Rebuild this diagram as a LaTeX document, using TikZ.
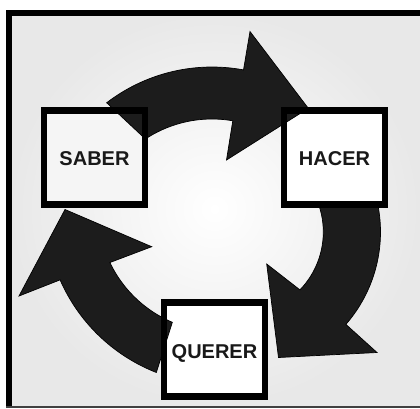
\documentclass[tikz,border=0pt]{standalone}
\usepackage{fontspec}
\setmainfont{Liberation Sans}
\definecolor{arrowfill}{HTML}{1C1C1C}
\definecolor{bgout}{HTML}{E8E8E8}
\begin{document}
\begin{tikzpicture}[x=1pt,y=-1pt,
  boxfill/.style={fill=#1, draw=none, minimum width=101pt, minimum height=94pt,
    outer sep=0pt, inner sep=0pt, text height=17.3pt, text depth=0pt,
    font=\bfseries\fontsize{20}{24}\selectfont, text=black!90},
  boxline/.style={draw=black, line width=6.5pt, line join=miter},
  arrowshape/.style={fill=arrowfill, draw=black, line width=0.7pt, line join=miter, miter limit=10},
  frameband/.style={fill=black}]
\useasboundingbox (0,0) rectangle (420,408);
\fill[white] (0,0) rectangle (420,408);
\shade[inner color=white, outer color=bgout] (9,12) rectangle (420,406);
\fill[frameband] (6,10) rectangle (12,406);
\fill[frameband] (6,10) rectangle (420,15.5);
\fill[black!75] (6,405.5) rectangle (420,408);
% boxes (fill + text)
\node[boxfill=black!4] (saber) at (94.5,157.3) {SABER};
\node[boxfill=white] (hacer) at (334.5,157.3) {HACER};
\node[boxfill=white] (querer) at (214.5,349.5) {QUERER};
% top arrow: SABER -> HACER
\filldraw[arrowshape] plot[domain=-127.5:-79.5, samples=40] ({212+173*cos(\x)},{240+173*sin(\x)})
  -- (250,31.5) -- (308.3,108.3) -- (226.5,160)
  -- plot[domain=-80.1:-123.4, samples=40] ({212+121*cos(\x)},{240+121*sin(\x)}) -- cycle;
% right arrow: HACER -> QUERER
\filldraw[arrowshape] plot[domain=-11.9:41.1, samples=40] ({240+140.5*cos(\x)},{232+140.5*sin(\x)})
  -- (377,352.5) -- (278.5,357.5) -- (266.7,264)
  -- plot[domain=44:-20.4, samples=40] ({240+83.3*cos(\x)},{232+83.3*sin(\x)}) -- cycle;
% left arrow: QUERER -> SABER
\filldraw[arrowshape] plot[domain=111.4:156.4, samples=40] ({220+174.5*cos(\x)},{210+174.5*sin(\x)})
  -- (19,296) -- (65,209.5) -- (151.7,246.7)
  -- plot[domain=154.5:113, samples=40] ({220+122*cos(\x)},{210+122*sin(\x)}) -- cycle;
% box borders on top
\draw[boxline] (saber.north west) rectangle (saber.south east);
\draw[boxline] (hacer.north west) rectangle (hacer.south east);
\draw[boxline] (querer.north west) rectangle (querer.south east);
\end{tikzpicture}
\end{document}
